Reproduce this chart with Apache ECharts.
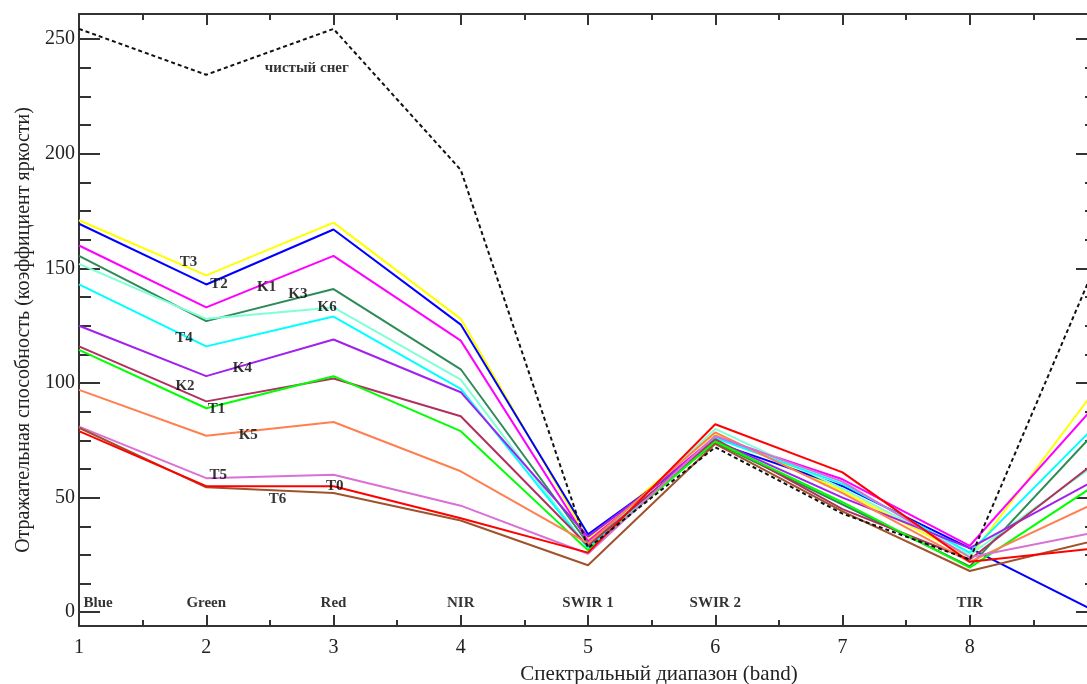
<!DOCTYPE html>
<html>
<head>
<meta charset="utf-8">
<script src="https://cdn.jsdelivr.net/npm/echarts@6/dist/echarts.min.js"></script>
<style>
  html, body { margin: 0; padding: 0; background: #fff; }
  #chart { width: 1087px; height: 684px; }
</style>
</head>
<body>
<div id="chart"></div>
<script>
// Spectral bands (x) and reflectance per band for each surface
const bands = [1, 2, 3, 4, 5, 6, 7, 8, 9];

const snow = [254.5, 234.5, 254.5, 193, 28, 72, 43, 23, 153];
const t0 = [79, 55, 55, 41, 26, 82, 61, 22, 28];
const t1 = [114.5, 89, 103, 79, 27, 74.5, 48, 19.5, 56];
const t2 = [169.5, 143, 167, 125.5, 34, 74, 55, 28, 0];
const t3 = [171, 147, 170, 128, 32, 78, 53, 24, 98];
const t4 = [143, 116, 129, 97.5, 28, 76, 56, 26, 82];
const t5 = [81, 58.5, 60, 46.5, 25.5, 77, 57, 24, 35];
const t6 = [80.5, 54.5, 52, 40, 20.5, 73.5, 44, 18, 31.5];
const k1 = [160, 133, 155.5, 118.5, 31, 76.5, 58, 29, 91];
const k2 = [116, 92, 102, 85.5, 29, 75.5, 45, 23, 66];
const k3 = [155.5, 127, 141, 106, 30, 74, 47, 20, 79.5];
const k4 = [125, 103, 119, 96, 33, 75, 50, 28, 58];
const k5 = [97, 77, 83, 61.5, 30, 78.5, 52, 22, 48];
const k6 = [152, 128, 133, 101.5, 28, 80, 54, 25, 65];

// Band names written inside the plot near the bottom
const bandNames = ['Blue', 'Green', 'Red', 'NIR', 'SWIR 1', 'SWIR 2', 'TIR'];
const bandNameX = [1.15, 2, 3, 4, 5, 6, 8];
const bandNameY = 3.8;

// Curve tags, placed in data coordinates
const tagNames = ['чистый снег', 'T3', 'T2', 'K1', 'K3', 'K6', 'T4', 'K4', 'K2', 'T1', 'K5', 'T5', 'T0', 'T6'];
const tagX = [2.79, 1.86, 2.1, 2.475, 2.72, 2.95, 1.825, 2.284, 1.833, 2.08, 2.33, 2.095, 3.01, 2.56];
const tagY = [237.3, 152.6, 143.1, 141.9, 138.7, 132.9, 119.4, 106.3, 98.6, 88.4, 77.2, 59.7, 55, 49.5];

// Y axis tick values
const yMajor = [0, 50, 100, 150, 200, 250];
const yMinor = [12.5, 25, 37.5, 62.5, 75, 87.5, 112.5, 125, 137.5, 162.5, 175, 187.5, 212.5, 225, 237.5];

const SERIF = 'Liberation Serif, Times New Roman, serif';
const AX = '#333';

const curves = [
  { name: 'T3', data: t3, color: '#ffff00' },
  { name: 'T2', data: t2, color: '#0000ff' },
  { name: 'K1', data: k1, color: '#ff00ff' },
  { name: 'K3', data: k3, color: '#2e8b57' },
  { name: 'K6', data: k6, color: '#7fffd4' },
  { name: 'T4', data: t4, color: '#00ffff' },
  { name: 'K4', data: k4, color: '#a020f0' },
  { name: 'K2', data: k2, color: '#b03060' },
  { name: 'T1', data: t1, color: '#00ff00' },
  { name: 'K5', data: k5, color: '#ff7f50' },
  { name: 'T5', data: t5, color: '#da70d6' },
  { name: 'T6', data: t6, color: '#a0522d' },
  { name: 'T0', data: t0, color: '#ff0000' }
];

const pairs = arr => bands.map((b, i) => [b, arr[i]]);

const series = curves.map(c => ({
  name: c.name,
  type: 'line',
  data: pairs(c.data),
  symbol: 'none',
  lineStyle: { color: c.color, width: 2 },
  itemStyle: { color: c.color },
  clip: true
}));

series.push({
  name: 'чистый снег',
  type: 'line',
  data: pairs(snow),
  symbol: 'none',
  lineStyle: { color: '#111', width: 2, type: [4, 3] },
  clip: true,
  z: 5
});

const textStyle = {
  show: true,
  position: 'inside',
  fontFamily: SERIF,
  fontWeight: 'bold',
  fontSize: 15,
  color: '#000',
  formatter: p => p.name
};

series.push({
  type: 'scatter',
  symbolSize: 0,
  silent: true,
  z: 10,
  label: textStyle,
  data: bandNames.map((n, i) => ({ name: n, value: [bandNameX[i], bandNameY] }))
});

series.push({
  type: 'scatter',
  symbolSize: 0,
  silent: true,
  z: 10,
  label: textStyle,
  data: tagNames.map((n, i) => ({ name: n, value: [tagX[i], tagY[i]] }))
});

const axisLine = { show: true, onZero: false, lineStyle: { color: AX, width: 2 } };
const tickStyle = { color: AX, width: 2 };
const labelStyle = { fontFamily: SERIF, fontSize: 20, color: '#222' };

const xCommon = {
  type: 'value', min: 1, max: 9, interval: 1,
  axisLine: axisLine,
  axisTick: { show: true, inside: true, length: 11, lineStyle: tickStyle },
  minorTick: { show: true, splitNumber: 2, length: 6, lineStyle: tickStyle },
  splitLine: { show: false },
  minorSplitLine: { show: false }
};

const yCommon = {
  type: 'value', min: -6, max: 261,
  axisLine: axisLine,
  splitLine: { show: false }
};

const option = {
  animation: false,
  backgroundColor: '#ffffff',
  grid: { left: 79, right: -10, top: 14, bottom: 58, outerBoundsMode: 'none', containLabel: false },
  xAxis: [
    Object.assign({}, xCommon, {
      position: 'bottom',
      axisLabel: Object.assign({ margin: 12, formatter: v => (v >= 9 ? '' : String(v)) }, labelStyle),
      name: 'Спектральный диапазон (band)',
      nameLocation: 'middle',
      nameGap: 38,
      nameTextStyle: { fontFamily: SERIF, fontSize: 21, color: '#222', padding: [0, 0, 0, 142] }
    }),
    Object.assign({}, xCommon, {
      position: 'top',
      axisLabel: { show: false }
    })
  ],
  yAxis: [
    Object.assign({}, yCommon, {
      position: 'left',
      axisTick: { show: true, inside: true, length: 21, customValues: yMajor, lineStyle: tickStyle },
      axisLabel: Object.assign({ margin: 4, customValues: yMajor }, labelStyle),
      name: 'Отражательная способность (коэффициент яркости)',
      nameLocation: 'middle',
      nameGap: 45,
      nameTextStyle: { fontFamily: SERIF, fontSize: 20, color: '#222', padding: [0, 20, 0, 0] }
    }),
    Object.assign({}, yCommon, {
      position: 'left',
      axisLine: { show: false },
      axisTick: { show: true, inside: true, length: 12, customValues: yMinor, lineStyle: tickStyle },
      axisLabel: { show: false }
    }),
    Object.assign({}, yCommon, {
      position: 'right',
      axisTick: { show: true, inside: true, length: 21, customValues: yMajor, lineStyle: tickStyle },
      axisLabel: { show: false }
    }),
    Object.assign({}, yCommon, {
      position: 'right',
      axisLine: { show: false },
      axisTick: { show: true, inside: true, length: 12, customValues: yMinor, lineStyle: tickStyle },
      axisLabel: { show: false }
    })
  ],
  series: series
};

const chart = echarts.init(document.getElementById('chart'), null, { renderer: 'canvas' });
chart.setOption(option);
</script>
</body>
</html>
